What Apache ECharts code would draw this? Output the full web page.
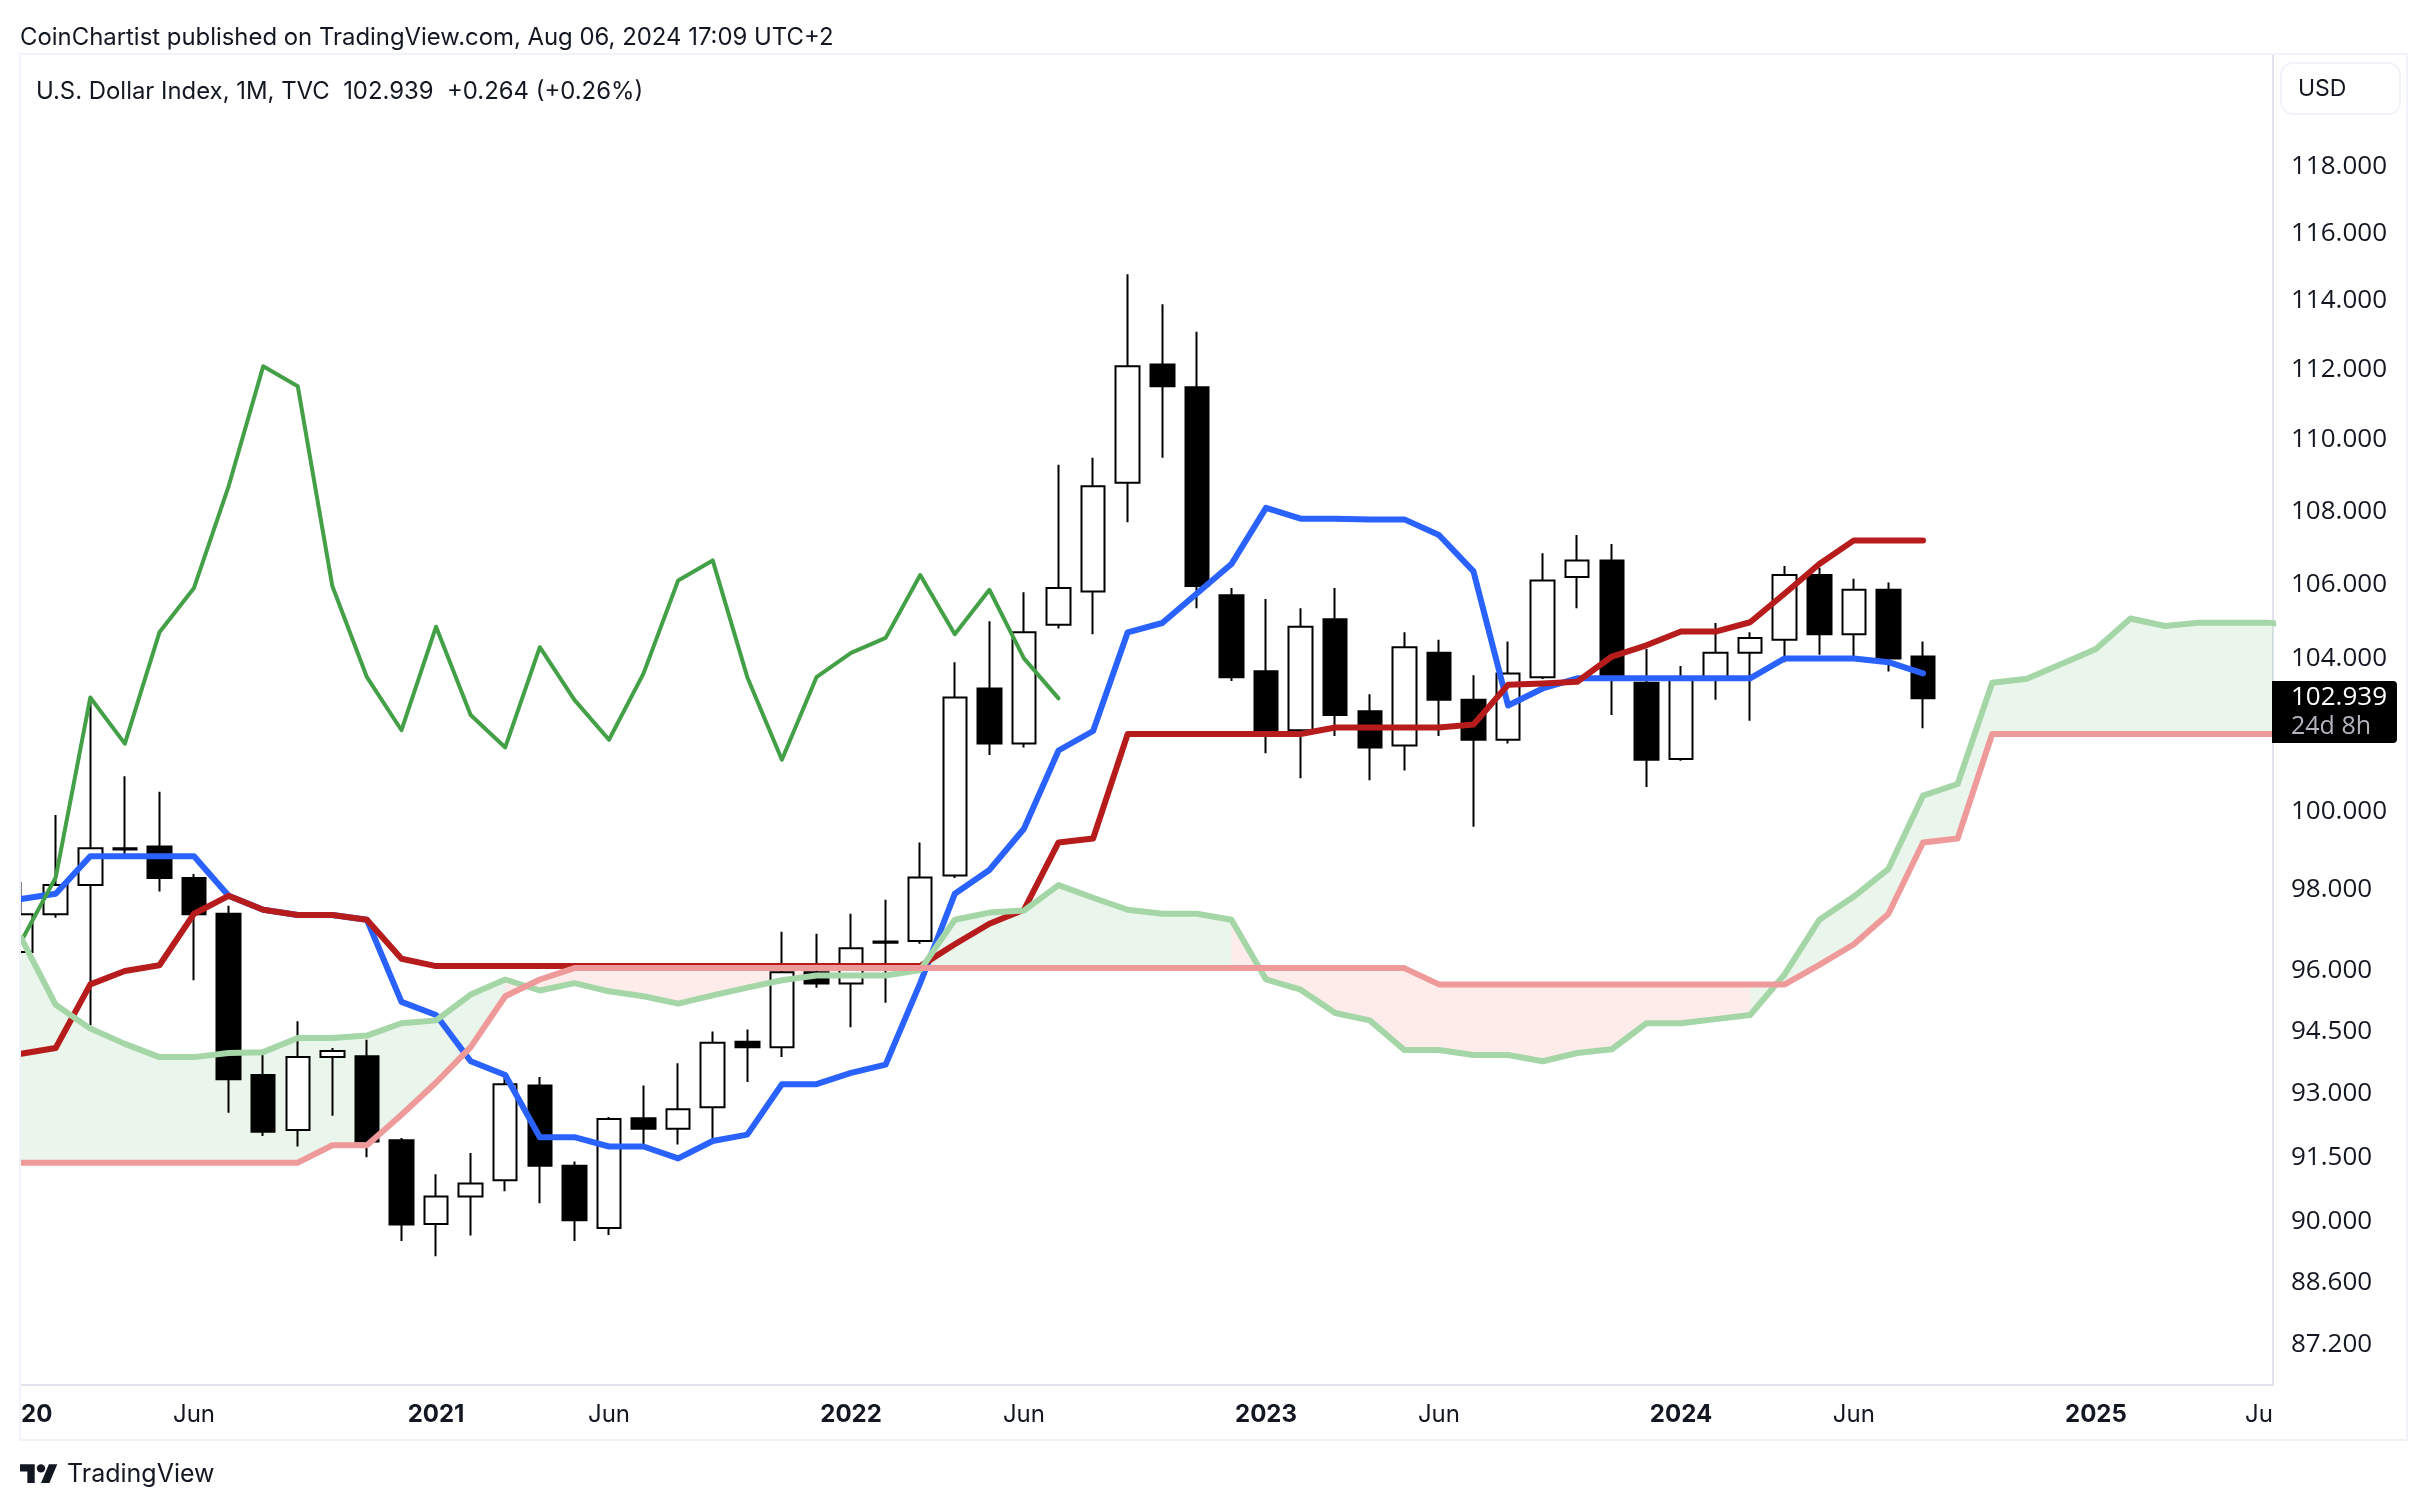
<!DOCTYPE html>
<html>
<head>
<meta charset="utf-8">
<title>U.S. Dollar Index</title>
<script src="https://cdn.jsdelivr.net/npm/echarts@6/dist/echarts.min.js"></script>
<style>
  html, body { margin: 0; padding: 0; background: #ffffff; }
  #main { width: 2428px; height: 1510px; }
</style>
</head>
<body>
<div id="main"></div>
<script>
// monthly candles, index 0 = Jan 2020: [open, close, low, high]
var candles = [
  [96.45, 97.39, 96.45, 98.2], [97.39, 98.12, 97.3, 99.9], [98.12, 99.05, 94.65, 102.97], [99.05, 99.02, 98.8, 100.9],
  [99.1, 98.3, 97.96, 100.5], [98.3, 97.39, 95.75, 98.4], [97.4, 93.35, 92.55, 97.6], [93.45, 92.1, 92.0, 93.98],
  [92.14, 93.88, 91.75, 94.75], [93.88, 94.03, 92.48, 94.1], [93.9, 91.87, 91.5, 94.3], [91.9, 89.93, 89.55, 91.95],
  [89.94, 90.58, 89.2, 91.1], [90.58, 90.88, 89.68, 91.6], [90.96, 93.23, 90.7, 93.44], [93.2, 91.3, 90.42, 93.4],
  [91.3, 90.03, 89.55, 91.4], [89.85, 92.4, 89.69, 92.45], [92.42, 92.17, 91.8, 93.2], [92.17, 92.63, 91.8, 93.73],
  [92.68, 94.23, 91.95, 94.5], [94.25, 94.12, 93.28, 94.55], [94.12, 95.95, 93.88, 96.95], [95.95, 95.67, 95.57, 96.9],
  [95.67, 96.54, 94.6, 97.4], [96.68, 96.71, 95.2, 97.75], [96.72, 98.31, 96.65, 99.2], [98.36, 102.96, 98.3, 103.9],
  [103.2, 101.75, 101.45, 105.0], [101.75, 104.7, 101.65, 105.78], [104.9, 105.9, 104.8, 109.3], [105.8, 108.7, 104.65, 109.5],
  [108.8, 112.1, 107.7, 114.78], [112.15, 111.53, 109.5, 113.9], [111.5, 105.95, 105.35, 113.1], [105.7, 103.5, 103.4, 105.9],
  [103.66, 102.1, 101.5, 105.6], [102.1, 104.85, 100.85, 105.35], [105.05, 102.5, 101.95, 105.9], [102.6, 101.65, 100.8, 103.05],
  [101.7, 104.3, 101.05, 104.7], [104.15, 102.9, 101.95, 104.5], [102.9, 101.85, 99.6, 103.55], [101.85, 103.6, 101.75, 104.45],
  [103.5, 106.1, 103.45, 106.85], [106.2, 106.65, 105.35, 107.35], [106.65, 103.5, 102.5, 107.1], [103.35, 101.33, 100.62, 104.25],
  [101.35, 103.5, 101.3, 103.8], [103.5, 104.15, 102.9, 104.95], [104.15, 104.55, 102.35, 104.7], [104.5, 106.25, 103.9, 106.5],
  [106.25, 104.65, 104.1, 106.45], [104.65, 105.85, 104.0, 106.15], [105.85, 104.0, 103.65, 106.05], [104.05, 102.939, 102.15, 104.45]
];

var conversionLine = [97.77, 97.9, 98.85, 98.85, 98.85, 98.85, 97.85, 97.5, 97.37, 97.37, 97.25, 95.22, 94.9, 93.78,
  93.45, 91.97, 91.97, 91.75, 91.75, 91.47, 91.88, 92.03, 93.23, 93.23, 93.5, 93.7, 95.68, 97.9, 98.5, 99.55, 101.57,
  102.08, 104.7, 104.95, 105.75, 106.55, 108.1, 107.8, 107.8, 107.78, 107.78, 107.35, 106.35, 102.75, 103.2, 103.47,
  103.47, 103.47, 103.47, 103.47, 103.47, 104, 104, 104, 103.9, 103.6];

var baseLine = [93.96, 94.1, 95.65, 95.98, 96.12, 97.4, 97.85, 97.5, 97.37, 97.37, 97.25, 96.28, 96.1, 96.1, 96.1, 96.1,
  96.1, 96.1, 96.1, 96.1, 96.1, 96.1, 96.1, 96.1, 96.1, 96.1, 96.1, 96.64, 97.15, 97.5, 99.2, 99.3, 102, 102, 102, 102,
  102, 102, 102.17, 102.17, 102.17, 102.17, 102.25, 103.3, 103.33, 103.38, 104.05, 104.35, 104.72, 104.72, 104.97,
  105.75, 106.55, 107.2, 107.2, 107.2];

var laggingSpan = [96.71, 98.31, 102.96, 101.75, 104.7, 105.9, 108.7, 112.1, 111.53, 105.95, 103.5, 102.1, 104.85, 102.5,
  101.65, 104.3, 102.9, 101.85, 103.6, 106.1, 106.65, 103.5, 101.33, 103.5, 104.15, 104.55, 106.25, 104.65, 105.85,
  104.0, 102.94];

var leadingSpanA = [96.8, 95.15, 94.57, 94.2, 93.88, 93.88, 93.98, 94.0, 94.34, 94.34, 94.4, 94.7, 94.77, 95.4, 95.77,
  95.5, 95.68, 95.48, 95.36, 95.18, 95.38, 95.57, 95.75, 95.87, 95.87, 95.87, 96.0, 97.25, 97.43, 97.48, 98.12, 97.8,
  97.5, 97.4, 97.4, 97.25, 95.77, 95.52, 94.95, 94.77, 94.05, 94.05, 93.93, 93.93, 93.78, 93.98, 94.07, 94.7, 94.7,
  94.8, 94.9, 95.9, 97.25, 97.83, 98.53, 100.4, 100.7, 103.35, 103.46, 103.85, 104.25, 105.07, 104.87, 104.96, 104.96,
  104.96, 104.85];

var leadingSpanB = [91.37, 91.37, 91.37, 91.37, 91.37, 91.37, 91.37, 91.37, 91.37, 91.78, 91.78, 92.5, 93.27, 94.12, 95.36,
  95.77, 96.05, 96.05, 96.05, 96.05, 96.05, 96.05, 96.05, 96.05, 96.05, 96.05, 96.05, 96.05, 96.05, 96.05, 96.05, 96.05,
  96.05, 96.05, 96.05, 96.05, 96.05, 96.05, 96.05, 96.05, 96.05, 95.65, 95.65, 95.65, 95.65, 95.65, 95.65, 95.65, 95.65,
  95.65, 95.65, 95.65, 96.13, 96.64, 97.4, 99.2, 99.3, 102, 102, 102, 102, 102, 102, 102, 102, 102, 102];

var priceTicks = [118, 116, 114, 112, 110, 108, 106, 104, 100, 98, 96, 94.5, 93, 91.5, 90, 88.6, 87.2];
var timeTickIndex = [0, 5, 12, 17, 24, 29, 36, 41, 48, 53, 60, 65.12];
var timeTickLabels = ['20', 'Jun', '2021', 'Jun', '2022', 'Jun', '2023', 'Jun', '2024', 'Jun', '2025', 'Ju'];

var headerText = 'CoinChartist published on TradingView.com, Aug 06, 2024 17:09 UTC+2';
var legendText = 'U.S. Dollar Index, 1M, TVC  102.939  +0.264 (+0.26%)';

var FONT = 'Inter, "Noto Sans", sans-serif';
var PRICE_FONT = '"Open Sans", Inter, sans-serif';
var INK = '#131722';
var FRAME = '#f0f3fa';
var AXIS = '#e0e3eb';

function indexed(values) {
  return values.map(function (v, i) { return [i, v]; });
}

// cloud quads between span A and B, one per month step
var cloudData = [];
for (var i = 0; i < leadingSpanA.length - 1; i++) {
  cloudData.push([i, leadingSpanA[i], leadingSpanB[i], leadingSpanA[i + 1], leadingSpanB[i + 1]]);
}

function renderCloud(params, api) {
  var x = api.value(0);
  var a0 = api.coord([x, api.value(1)]);
  var b0 = api.coord([x, api.value(2)]);
  var a1 = api.coord([x + 1, api.value(3)]);
  var b1 = api.coord([x + 1, api.value(4)]);
  return {
    type: 'polygon',
    shape: { points: [a0, a1, b1, b0] },
    style: { fill: api.value(3) >= api.value(4) ? 'rgba(67,160,71,0.11)' : 'rgba(244,67,54,0.1)', stroke: null }
  };
}

function lineSeries(name, values, color, width) {
  return {
    name: name,
    type: 'line',
    data: indexed(values),
    symbol: 'none',
    silent: true,
    lineStyle: { color: color, width: width, cap: 'round', join: 'round' }
  };
}

var chartDom = document.getElementById('main');
var myChart = echarts.init(chartDom);

var option = {
  animation: false,
  backgroundColor: '#ffffff',
  textStyle: { fontFamily: FONT },
  title: [
    { text: headerText, left: 20, top: 26, padding: 0, textStyle: { fontFamily: FONT, fontSize: 23.9, fontWeight: 400, color: INK } },
    { text: legendText, left: 36, top: 80, padding: 0, textStyle: { fontFamily: FONT, fontSize: 23.9, fontWeight: 400, color: INK } }
  ],
  grid: { left: 20, right: 155, top: 54, bottom: 125 },
  xAxis: {
    type: 'value',
    min: -0.032,
    max: 65.12,
    splitLine: { show: false },
    axisTick: { show: false },
    axisLine: { show: true, onZero: false, lineStyle: { color: AXIS, width: 2 } },
    axisLabel: {
      customValues: timeTickIndex,
      margin: 18,
      fontFamily: FONT,
      fontSize: 24,
      color: INK,
      showMinLabel: true,
      showMaxLabel: true,
      alignMinLabel: 'left',
      alignMaxLabel: 'right',
      formatter: function (value) {
        var text = timeTickLabels[timeTickIndex.indexOf(value)];
        return text === 'Jun' || text === 'Ju' ? text : '{y|' + text + '}';
      },
      rich: { y: { fontFamily: FONT, fontSize: 24, fontWeight: 700, color: INK } }
    }
  },
  yAxis: {
    type: 'log',
    position: 'right',
    min: 86.3,
    max: 121.46,
    splitLine: { show: false },
    minorTick: { show: false },
    axisTick: { show: false },
    axisLine: { show: true, onZero: false, lineStyle: { color: AXIS, width: 2 } },
    axisLabel: {
      customValues: priceTicks,
      margin: 18,
      padding: [6, 0, 0, 0],
      fontFamily: PRICE_FONT,
      fontSize: 26,
      color: INK,
      formatter: function (value) { return value.toFixed(3); }
    }
  },
  series: [
    {
      name: 'U.S. Dollar Index',
      type: 'candlestick',
      data: candles.map(function (c, i) { return [i, c[0], c[1], c[2], c[3]]; }),
      barWidth: 24,
      silent: true,
      itemStyle: { color: '#ffffff', color0: '#000000', borderColor: '#000000', borderColor0: '#000000', borderWidth: 2 }
    },
    {
      name: 'Cloud',
      type: 'custom',
      data: cloudData,
      renderItem: renderCloud,
      encode: { x: 0, y: [1, 2] },
      clip: true,
      silent: true
    },
    lineSeries('Conversion Line', conversionLine, '#2962ff', 6),
    lineSeries('Base Line', baseLine, '#b71c1c', 6),
    lineSeries('Lagging Span', laggingSpan, '#43a047', 4),
    lineSeries('Leading Span A', leadingSpanA, '#a5d6a7', 6),
    lineSeries('Leading Span B', leadingSpanB, '#ef9a9a', 6)
  ],
  graphic: [
    // the first candle is cut at the pane edge
    { type: 'rect', shape: { x: 0, y: 56, width: 20, height: 1326 }, style: { fill: '#ffffff' }, silent: true, z: 30 },
    { type: 'rect', shape: { x: 20, y: 54, width: 2387, height: 1386 }, style: { fill: null, stroke: FRAME, lineWidth: 2 }, silent: true, z: 31 },
    { type: 'rect', shape: { x: 2281, y: 63, width: 119, height: 51, r: 12 }, style: { fill: '#ffffff', stroke: FRAME, lineWidth: 2 }, silent: true },
    { type: 'text', x: 2298, y: 89.5, style: { text: 'USD', font: '23px ' + FONT, fill: INK, verticalAlign: 'middle' }, silent: true },
    { type: 'rect', shape: { x: 2272, y: 681, width: 125, height: 62, r: [0, 4, 4, 0] }, style: { fill: '#000000' }, silent: true, z: 20 },
    { type: 'text', x: 2291, y: 698, style: { text: '102.939', font: '26px ' + PRICE_FONT, fill: '#ffffff', verticalAlign: 'middle' }, silent: true, z: 21 },
    { type: 'text', x: 2291, y: 727, style: { text: '24d 8h', font: '25px ' + PRICE_FONT, fill: '#b2b5be', verticalAlign: 'middle' }, silent: true, z: 21 },
    // TradingView mark
    { type: 'polygon', x: 20, y: 1460, scaleX: 1.05, scaleY: 1.05, shape: { points: [[0, 4], [14, 4], [14, 22], [7, 22], [7, 11], [0, 11]] }, style: { fill: INK }, silent: true },
    { type: 'polygon', x: 20, y: 1460, scaleX: 1.05, scaleY: 1.05, shape: { points: [[27.5, 4], [35.5, 4], [28, 22], [20, 22]] }, style: { fill: INK }, silent: true },
    { type: 'circle', x: 20, y: 1460, scaleX: 1.05, scaleY: 1.05, shape: { cx: 20, cy: 8, r: 4 }, style: { fill: INK }, silent: true },
    { type: 'text', x: 67, y: 1474.5, style: { text: 'TradingView', font: '25px ' + FONT, fill: INK, verticalAlign: 'middle' }, silent: true }
  ]
};

myChart.setOption(option);
</script>
</body>
</html>
